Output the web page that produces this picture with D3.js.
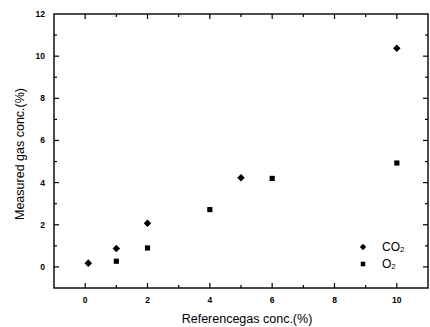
<!DOCTYPE html>
<html>
<head>
<meta charset="utf-8">
<script src="https://cdn.jsdelivr.net/npm/d3@7"></script>
<style>
  html, body { margin: 0; padding: 0; background: #fff; }
  svg { display: block; font-family: "Liberation Sans", Arial, sans-serif; }
</style>
</head>
<body>
<svg id="chart" width="430" height="327"></svg>
<script>
// Reference gas concentration (%) vs measured concentration (%)
const co2Ref = [0.1, 1, 2, 5, 10];
const co2Measured = [0.18, 0.87, 2.07, 4.23, 10.37];
const o2Ref = [1, 2, 4, 6, 10];
const o2Measured = [0.27, 0.9, 2.72, 4.2, 4.93];

const xTicks = [0, 2, 4, 6, 8, 10];
const yTicks = [0, 2, 4, 6, 8, 10, 12];
const xMinor = [1, 3, 5, 7, 9];
const yMinor = [1, 3, 5, 7, 9, 11];

const svg = d3.select("#chart");
const plot = { left: 54, right: 428, top: 14, bottom: 288 };

const x = d3.scaleLinear().domain([-1, 11]).range([plot.left, plot.right]);
const y = d3.scaleLinear().domain([-1, 12]).range([plot.bottom, plot.top]);

const g = svg.append("g");

// frame
g.append("rect")
  .attr("x", plot.left).attr("y", plot.top)
  .attr("width", plot.right - plot.left).attr("height", plot.bottom - plot.top)
  .attr("fill", "none").attr("stroke", "#000").attr("stroke-width", 1.4);

// inward ticks on all four sides
function tickMarks(sel, vals, len, side) {
  sel.selectAll(null).data(vals).enter().append("line")
    .attr("stroke", "#000").attr("stroke-width", 1.2)
    .each(function(d) {
      const s = d3.select(this);
      if (side === "bottom") s.attr("x1", x(d)).attr("x2", x(d)).attr("y1", plot.bottom).attr("y2", plot.bottom - len);
      if (side === "top") s.attr("x1", x(d)).attr("x2", x(d)).attr("y1", plot.top).attr("y2", plot.top + len);
      if (side === "left") s.attr("y1", y(d)).attr("y2", y(d)).attr("x1", plot.left).attr("x2", plot.left + len);
      if (side === "right") s.attr("y1", y(d)).attr("y2", y(d)).attr("x1", plot.right).attr("x2", plot.right - len);
    });
}
const ticks = g.append("g");
tickMarks(ticks, xTicks, 5, "bottom");
tickMarks(ticks, xTicks, 5, "top");
tickMarks(ticks, xMinor, 3, "bottom");
tickMarks(ticks, xMinor, 3, "top");
tickMarks(ticks, yTicks.filter(d => d < 12), 5, "left");
tickMarks(ticks, yTicks.filter(d => d < 12), 5, "right");
tickMarks(ticks, yMinor, 3, "left");
tickMarks(ticks, yMinor, 3, "right");

// tick labels
g.append("g").selectAll("text").data(xTicks).enter().append("text")
  .attr("x", d => x(d)).attr("y", 303)
  .attr("text-anchor", "middle")
  .attr("font-size", 8.5).attr("font-weight", "bold")
  .text(d => d);

g.append("g").selectAll("text").data(yTicks).enter().append("text")
  .attr("x", 45).attr("y", d => y(d) + 3)
  .attr("text-anchor", "end")
  .attr("font-size", 8.5).attr("font-weight", "bold")
  .text(d => d);

// axis titles
svg.append("text")
  .attr("x", 247).attr("y", 323)
  .attr("text-anchor", "middle").attr("font-size", 12.5)
  .text("Referencegas conc.(%)");

svg.append("text")
  .attr("transform", "translate(24,154) rotate(-90)")
  .attr("text-anchor", "middle").attr("font-size", 12.5)
  .text("Measured gas conc.(%)");

// markers
const diamond = d3.symbol().type(d3.symbolDiamond2).size(36);
const square = d3.symbol().type(d3.symbolSquare2).size(34);

g.append("g").selectAll("path").data(co2Ref).enter().append("path")
  .attr("d", diamond)
  .attr("transform", (d, i) => `translate(${x(d)},${y(co2Measured[i])})`)
  .attr("fill", "#000");

g.append("g").selectAll("path").data(o2Ref).enter().append("path")
  .attr("d", square)
  .attr("transform", (d, i) => `translate(${x(d)},${y(o2Measured[i])})`)
  .attr("fill", "#000");

// legend
const legend = svg.append("g");
legend.append("path").attr("d", d3.symbol().type(d3.symbolDiamond2).size(26))
  .attr("transform", "translate(363,247)").attr("fill", "#000");
legend.append("path").attr("d", d3.symbol().type(d3.symbolSquare2).size(26))
  .attr("transform", "translate(363,264)").attr("fill", "#000");

const t1 = legend.append("text").attr("x", 382).attr("y", 251).attr("font-size", 12);
t1.append("tspan").text("CO");
t1.append("tspan").attr("font-size", 8).attr("dy", 1).text("2");
const t2 = legend.append("text").attr("x", 382).attr("y", 268).attr("font-size", 12);
t2.append("tspan").text("O");
t2.append("tspan").attr("font-size", 8).attr("dy", 1).text("2");
</script>
</body>
</html>
